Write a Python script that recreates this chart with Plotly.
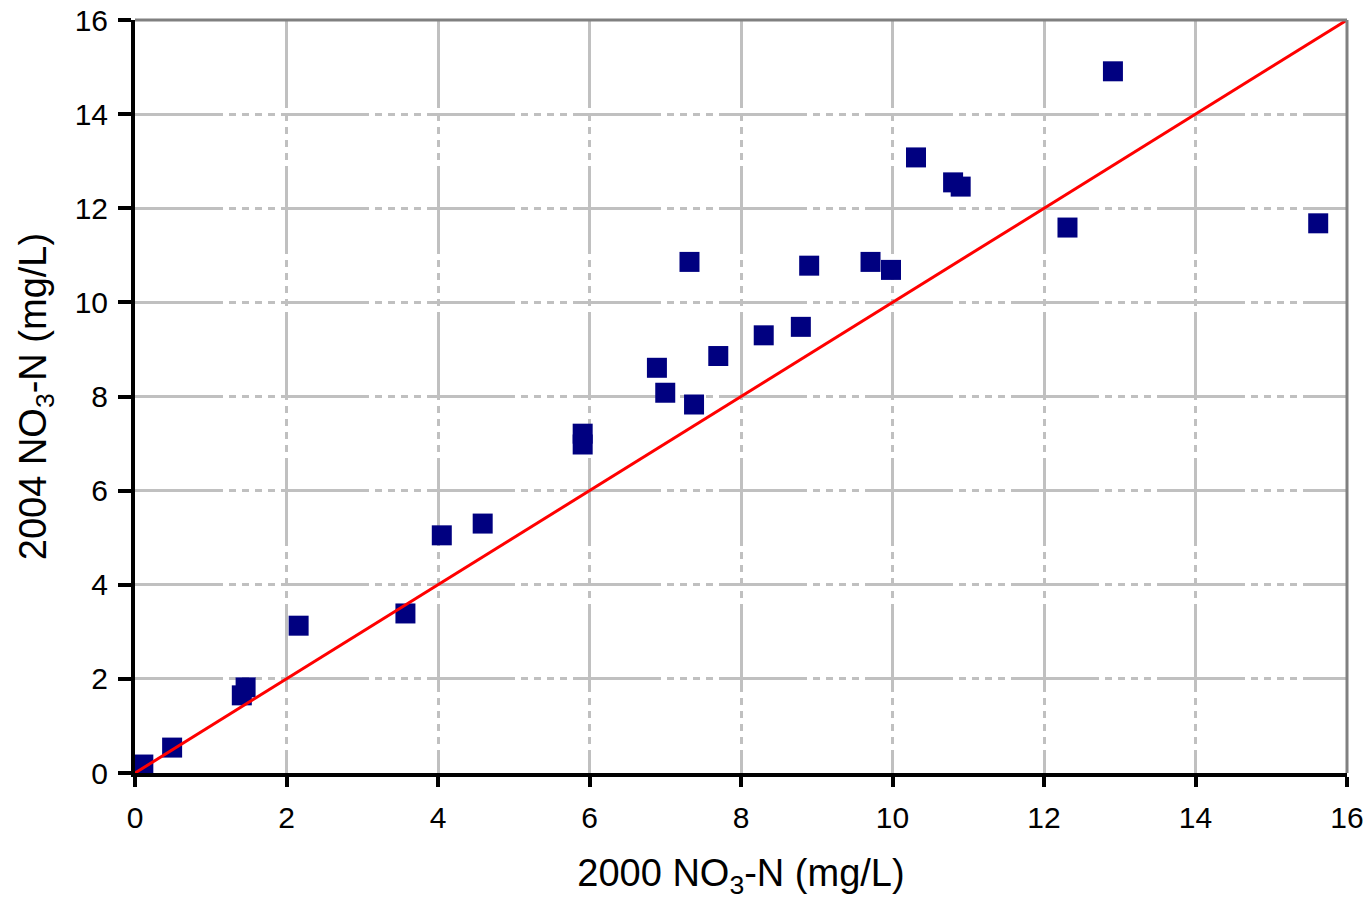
import plotly.graph_objects as go

# 2000 vs 2004 NO3-N concentrations (mg/L)
x2000 = [0.11, 0.49, 1.41, 1.46, 2.16, 3.57, 4.05, 4.59, 5.91, 5.91, 6.89, 7.00,
         7.38, 7.32, 7.70, 8.30, 8.79, 8.90, 9.71, 9.98, 10.31, 10.80, 10.90,
         12.31, 12.91, 15.62]
y2004 = [0.18, 0.54, 1.65, 1.82, 3.13, 3.39, 5.05, 5.30, 7.21, 6.98, 8.61, 8.08,
         7.83, 10.86, 8.86, 9.30, 9.48, 10.78, 10.86, 10.69, 13.08, 12.55, 12.46,
         11.59, 14.91, 11.68]
line_x = [0, 16]
line_y = [0, 16]
tick_vals = [0, 2, 4, 6, 8, 10, 12, 14, 16]

FONT = "Liberation Sans, Arial, sans-serif"
GRID_DASH = "88px,6px,7px,6px,7px,6px,7px,6px,7px,6px"

fig = go.Figure()
fig.add_trace(go.Scatter(
    x=x2000, y=y2004, mode="markers",
    marker=dict(symbol="square", size=20, color="#000080", line=dict(width=0)),
    cliponaxis=False, showlegend=False,
))
fig.add_trace(go.Scatter(
    x=line_x, y=line_y, mode="lines",
    line=dict(color="#FF0000", width=3),
    cliponaxis=False, showlegend=False,
))

axis_common = dict(
    range=[0, 16], tickvals=tick_vals, ticktext=[str(v) for v in tick_vals],
    showgrid=True, gridcolor="#C0C0C0", gridwidth=3, griddash=GRID_DASH,
    showline=True, linecolor="#000000", linewidth=4,
    ticks="outside", tickcolor="#000000", tickwidth=4,
    tickfont=dict(family=FONT, size=30, color="#000000"),
    zeroline=False, fixedrange=True, automargin=False,
    ticklabeloverflow="allow",
)

fig.update_layout(
    width=1370, height=900,
    margin=dict(l=135, r=23, t=20, b=127),
    paper_bgcolor="white", plot_bgcolor="white",
    xaxis=dict(**axis_common, ticklen=10, ticklabelstandoff=5,
               title=dict(text="2000 NO<sub>3</sub>-N (mg/L)",
                          font=dict(family=FONT, size=38, color="#000000"),
                          standoff=29)),
    yaxis=dict(**axis_common, ticklen=13, ticklabelstandoff=4,
               title=dict(text="2004 NO<sub>3</sub>-N (mg/L)",
                          font=dict(family=FONT, size=38, color="#000000"),
                          standoff=17)),
    shapes=[
        dict(type="line", xref="paper", yref="paper", x0=0, x1=1, y0=1, y1=1,
             line=dict(color="#808080", width=3), layer="above"),
        dict(type="line", xref="paper", yref="paper", x0=1, x1=1, y0=0, y1=1,
             line=dict(color="#808080", width=3), layer="above"),
    ],
)

fig.write_html(
    "out.html",
    config={"displayModeBar": False},
    post_script="document.body.style.margin='0';document.body.style.overflow='hidden';",
)
